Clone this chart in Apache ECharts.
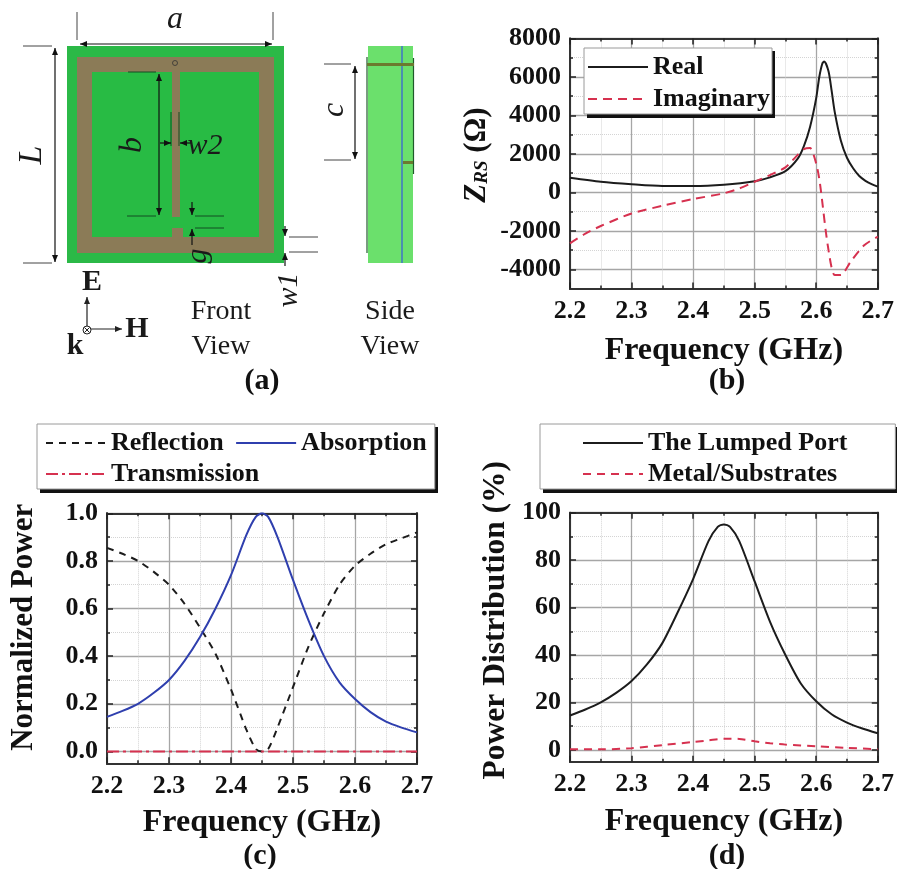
<!DOCTYPE html>
<html><head><meta charset="utf-8">
<style>html,body{margin:0;padding:0;background:#fff}#c{width:897px;height:869px}</style>
<script src="https://cdn.jsdelivr.net/npm/echarts@6/dist/echarts.min.js"></script>
</head><body><div id="c"></div>
<script>
const xMajor=[2.2,2.3,2.4,2.5,2.6,2.7];
const xMinor=[2.25,2.35,2.45,2.55,2.65];
const bMajor=[-4000,-2000,0,2000,4000,6000,8000];
const bMinor=[-3000,-1000,1000,3000,5000,7000];
const cMajor=[0,0.2,0.4,0.6,0.8,1.0];
const cMinor=[0.1,0.3,0.5,0.7,0.9];
const dMajor=[0,20,40,60,80,100];
const dMinor=[10,30,50,70,90];

const realF=[2.2,2.25,2.3,2.35,2.4,2.45,2.5,2.525,2.55,2.57,2.58,2.59,2.6,2.605,2.61,2.613,2.62,2.625,2.63,2.64,2.65,2.66,2.67,2.68,2.69,2.7];
const realV=[760,550,420,330,330,400,580,780,1100,1750,2400,3400,4900,6000,6700,6800,6300,5300,4200,2700,1800,1250,850,600,430,300];
const imagF=[2.2,2.225,2.25,2.3,2.35,2.4,2.45,2.475,2.5,2.525,2.55,2.57,2.58,2.59,2.6,2.605,2.608,2.619,2.63,2.64,2.656,2.678,2.7];
const imagV=[-2650,-2150,-1750,-1100,-700,-350,-50,200,550,900,1300,1950,2250,2300,1500,700,0,-2800,-4300,-4300,-3600,-2750,-2300];
const powerF=[2.2,2.225,2.25,2.275,2.3,2.325,2.35,2.375,2.4,2.425,2.44,2.45,2.46,2.475,2.5,2.525,2.55,2.575,2.6,2.625,2.65,2.675,2.7];
const reflV=[.855,.83,.80,.755,.70,.62,.52,.41,.26,.09,.01,0,.01,.10,.27,.44,.58,.70,.78,.83,.87,.895,.92];
const absV=[.145,.17,.20,.245,.30,.38,.48,.60,.74,.91,.985,1,.985,.90,.72,.55,.40,.29,.22,.165,.125,.10,.08];
const transV=[0,0,0,0,0,0,0,0,0,0,0,0,0,0,0,0,0,0,0,0,0,0,0];
const portV=[14.5,17,20,24,29,36,45,58,72,88,94,95,94,88,71,54,40,28,20.5,15,11.5,9,7];
const metalF=[2.2,2.25,2.3,2.35,2.4,2.425,2.45,2.475,2.5,2.525,2.55,2.6,2.65,2.7];
const metalV=[.3,.2,.7,2,3.3,4,4.7,4.6,3.6,2.8,2.2,1.5,.8,.3];

const serif='"Liberation Serif"';
const ink='#1c1c1c', red='#d6314f', blue='#2f3fae';
const zip=(a,b)=>a.map((v,i)=>[v,b[i]]);

const grids=[],xAxes=[],yAxes=[],series=[];
function panel(g,o){
  const gi=grids.length;grids.push(g);
  const xb=xAxes.length,yb=yAxes.length;
  const line={show:true,onZero:false,lineStyle:{color:'#333',width:2}};
  const gridMaj={show:true,lineStyle:{color:'#a6a6a6',width:1.3,type:'solid'}};
  const gridMin={show:true,lineStyle:{color:'#d4d4d4',width:1,type:'dotted'}};
  const mk=(pos,base,vals,isMajor,isMain,extra)=>Object.assign({
    type:'value',gridIndex:gi,position:pos,axisLine:line,
    axisTick:{show:true,inside:true,length:isMajor?6:3,customValues:vals,lineStyle:{color:'#222',width:1.5}},
    axisLabel:{show:false,customValues:vals},
    splitLine:isMain?(isMajor?gridMaj:gridMin):{show:false}
  },base,extra||{});
  const xBase={min:2.2,max:2.7};
  const yBase={min:o.min,max:o.max};
  xAxes.push(mk('bottom',xBase,xMajor,true,true,{
    name:'Frequency (GHz)',nameLocation:'middle',nameGap:o.xGap,
    nameTextStyle:{fontFamily:serif,fontWeight:'bold',fontSize:32,color:'#111'},
    axisLabel:{show:true,customValues:xMajor,margin:10,fontFamily:serif,fontWeight:'bold',fontSize:26,color:'#111',formatter:v=>v.toFixed(1),hideOverlap:false}
  }));
  xAxes.push(mk('bottom',xBase,xMinor,false,true));
  xAxes.push(mk('top',xBase,xMajor,true,false));
  xAxes.push(mk('top',xBase,xMinor,false,false));
  yAxes.push(mk('left',yBase,o.major,true,true,{
    name:o.name,nameLocation:'middle',nameGap:o.yGap,
    nameTextStyle:Object.assign({fontFamily:serif,fontWeight:'bold',fontSize:31,color:'#111',padding:[0,0,0,o.yShift]},o.nameStyle||{}),
    axisLabel:{show:true,customValues:o.major,margin:9,fontFamily:serif,fontWeight:'bold',fontSize:26,color:'#111',formatter:o.fmt,hideOverlap:false}
  }));
  yAxes.push(mk('left',yBase,o.minor,false,true));
  yAxes.push(mk('right',yBase,o.major,true,false));
  yAxes.push(mk('right',yBase,o.minor,false,false));
  o.lines.forEach(l=>series.push({
    type:'line',name:l.name,data:l.data,xAxisIndex:xb,yAxisIndex:yb,
    showSymbol:false,symbol:'none',smooth:0.25,clip:true,
    lineStyle:{color:l.color,width:l.width||2,type:l.type||'solid'},
    itemStyle:{color:l.color}
  }));
}

panel({left:570,top:38.5,width:310,height:250},{
  min:-5000,max:8000,major:bMajor,minor:bMinor,fmt:v=>String(v),xGap:46,yGap:78,yShift:17,
  name:'{z|Z}{s|RS} ({w|Ω})',
  nameStyle:{rich:{
    z:{fontFamily:serif,fontWeight:'bold',fontStyle:'italic',fontSize:31,color:'#111'},
    s:{fontFamily:serif,fontWeight:'bold',fontStyle:'italic',fontSize:19,color:'#111',verticalAlign:'bottom',padding:[10,0,0,0]},
    w:{fontFamily:serif,fontWeight:'bold',fontSize:31,color:'#111'}
  }},
  lines:[
    {name:'Real',data:zip(realF,realV),color:ink},
    {name:'Imaginary',data:zip(imagF,imagV),color:red,type:[9,6]}
  ]});
panel({left:107,top:513.3,width:310,height:250},{
  min:-0.05,max:1.0,major:cMajor,minor:cMinor,fmt:v=>v.toFixed(1),xGap:43,yGap:68,yShift:22,
  name:'Normalized Power',
  lines:[
    {name:'Reflection',data:zip(powerF,reflV),color:ink,type:[7,6]},
    {name:'Absorption',data:zip(powerF,absV),color:blue},
    {name:'Transmission',data:zip(powerF,transV),color:red,type:[12,4,3,4]}
  ]});
panel({left:570,top:512.7,width:310,height:249},{
  min:-5,max:100,major:dMajor,minor:dMinor,fmt:v=>String(v),xGap:44,yGap:58,yShift:34,
  name:'Power Distribution (%)',
  nameStyle:{fontSize:31.5},
  lines:[
    {name:'The Lumped Port',data:zip(powerF,portV),color:ink},
    {name:'Metal/Substrates',data:zip(metalF,metalV),color:red,type:[8,6]}
  ]});

const legendBase={
  backgroundColor:'#fff',borderColor:'#9a9a9a',borderWidth:1,borderRadius:0,
  itemWidth:60,itemHeight:14,selectedMode:false,itemStyle:{opacity:0},
  textStyle:{fontFamily:serif,fontWeight:'bold',fontSize:26,color:'#111'}
};
const legends=[
  Object.assign({},legendBase,{left:584,top:48,orient:'vertical',itemGap:6,padding:[6,2,2,3],data:['Real','Imaginary']}),
  Object.assign({},legendBase,{left:37,top:424,orient:'horizontal',width:410,itemGap:5,padding:[6,8,2,8],data:['Reflection','Absorption','Transmission'],
    formatter:n=>n==='Reflection'?n+' ':n}),
  Object.assign({},legendBase,{left:540,top:424,orient:'vertical',itemGap:5,padding:[6,48,2,42],data:['The Lumped Port','Metal/Substrates']})
];

const titles=[['(a)',262,366],['(b)',727,366],['(c)',260,841],['(d)',727,841]].map(t=>({
  text:t[0],left:t[1],top:t[2],textAlign:'center',padding:0,
  textStyle:{fontFamily:serif,fontWeight:'bold',fontSize:30,color:'#111'}
}));

/* schematic of panel (a) and legend drop shadows: illustration, not data */
const G=[];
const rect=(x,y,w,h,fill,z)=>G.push({type:'rect',z:z||0,shape:{x,y,width:w,height:h},style:{fill}});
const seg=(x1,y1,x2,y2,c,w)=>G.push({type:'line',shape:{x1,y1,x2,y2},style:{stroke:c||'#222',lineWidth:w||1}});
const head=(x,y,dx,dy,c)=>{const s=7,t=3;G.push({type:'polygon',shape:{points:[[x,y],[x-dx*s-dy*t,y-dy*s-dx*t],[x-dx*s+dy*t,y-dy*s+dx*t]]},style:{fill:c||'#111'}});};
const arrow2=(x1,y1,x2,y2,c)=>{seg(x1,y1,x2,y2,c,1.2);const dx=Math.sign(x2-x1),dy=Math.sign(y2-y1);head(x2,y2,dx,dy,c);head(x1,y1,-dx,-dy,c);};
const arrow1=(x1,y1,x2,y2,c)=>{seg(x1,y1,x2,y2,c,1.2);head(x2,y2,Math.sign(x2-x1),Math.sign(y2-y1),c);};
const txt=(s,x,y,size,o)=>{o=o||{};G.push({type:'text',x,y,rotation:o.rot||0,style:{text:s,fontFamily:serif,fontSize:size,fontStyle:o.it?'italic':'normal',fontWeight:o.b?'bold':'normal',fill:'#1a1a1a',align:'center',verticalAlign:'middle'}});};
const Q=Math.PI/2;
rect(587,51,188,67,'#111',3);
rect(40,427,398,66,'#111',3);
rect(543,427,354,66,'#111',3);
rect(67,46,217,217,'#2bb947');
rect(77,57,197,196,'#8b7b57');
rect(92,72,167,165,'#28bb44');
rect(172,72,8,145,'#8b7b57');
rect(172,228,11,9,'#8b7b57');
G.push({type:'circle',shape:{cx:175,cy:63,r:2.5},style:{fill:'#8b7b57',stroke:'#333',lineWidth:.8}});
const dk='#124d22';
arrow2(80,44,272,44,'#111');seg(77,12,77,40,'#444');seg(273,12,273,40,'#444');
txt('a',175,20,32,{it:true});
seg(23,46,52,46,'#444');seg(23,263,52,263,'#444');arrow2(55,48,55,262,'#111');
txt('L',32,155,34,{it:true,rot:Q});
seg(128,72,156,72,dk);seg(127,216,156,216,dk);arrow2(159,74,159,215,'#111');
txt('b',133,145,32,{it:true,rot:Q});
seg(171,112,171,146,dk);seg(179,112,179,146,dk);
arrow1(160,143,171,143,'#111');arrow1(192,143,180,143,'#111');
txt('w2',205,146,30,{it:true});
seg(195,216,224,216,dk);seg(195,228,224,228,dk);
arrow1(192,202,192,215,'#111');arrow1(192,245,192,229,'#111');
txt('g',198,256,30,{it:true,rot:Q});
seg(289,237,318,237,'#444');seg(289,252,318,252,'#444');
arrow1(285,226,285,236,'#111');arrow1(285,266,285,253,'#111');
txt('w1',289,290,30,{it:true,rot:Q});
rect(368,46,45,217,'#6be06c');
rect(401,46,2,217,'#4a8fb0');
seg(367,57,367,253,'#1f5a2a',1.2);seg(413.5,58,413.5,174,'#1f5a2a',1.2);
rect(367,63,47,3,'#6b7a2e');rect(403,161,10,3,'#6b7a2e');
seg(324,64,351,64,'#444');seg(324,160,351,160,'#444');arrow2(355,66,355,159,'#111');
txt('c',335,110,32,{it:true,rot:Q});
arrow1(87,329,87,297,'#222');arrow1(87,329,122,329,'#222');
G.push({type:'circle',shape:{cx:87,cy:330,r:4},style:{fill:'#fff',stroke:'#222',lineWidth:1}});
seg(84.5,327.5,89.5,332.5,'#222');seg(89.5,327.5,84.5,332.5,'#222');
txt('E',92,282,30,{b:true});txt('H',137,329,30,{b:true});txt('k',75,346,30,{b:true});
txt('Front',221,312,28);txt('View',221,347,28);txt('Side',390,312,28);txt('View',390,347,28);

const chart=echarts.init(document.getElementById('c'),null,{renderer:'canvas'});
chart.setOption({
  animation:false,backgroundColor:'#fff',
  title:titles,legend:legends,grid:grids,xAxis:xAxes,yAxis:yAxes,series:series,
  graphic:{elements:G}
});
</script></body></html>
